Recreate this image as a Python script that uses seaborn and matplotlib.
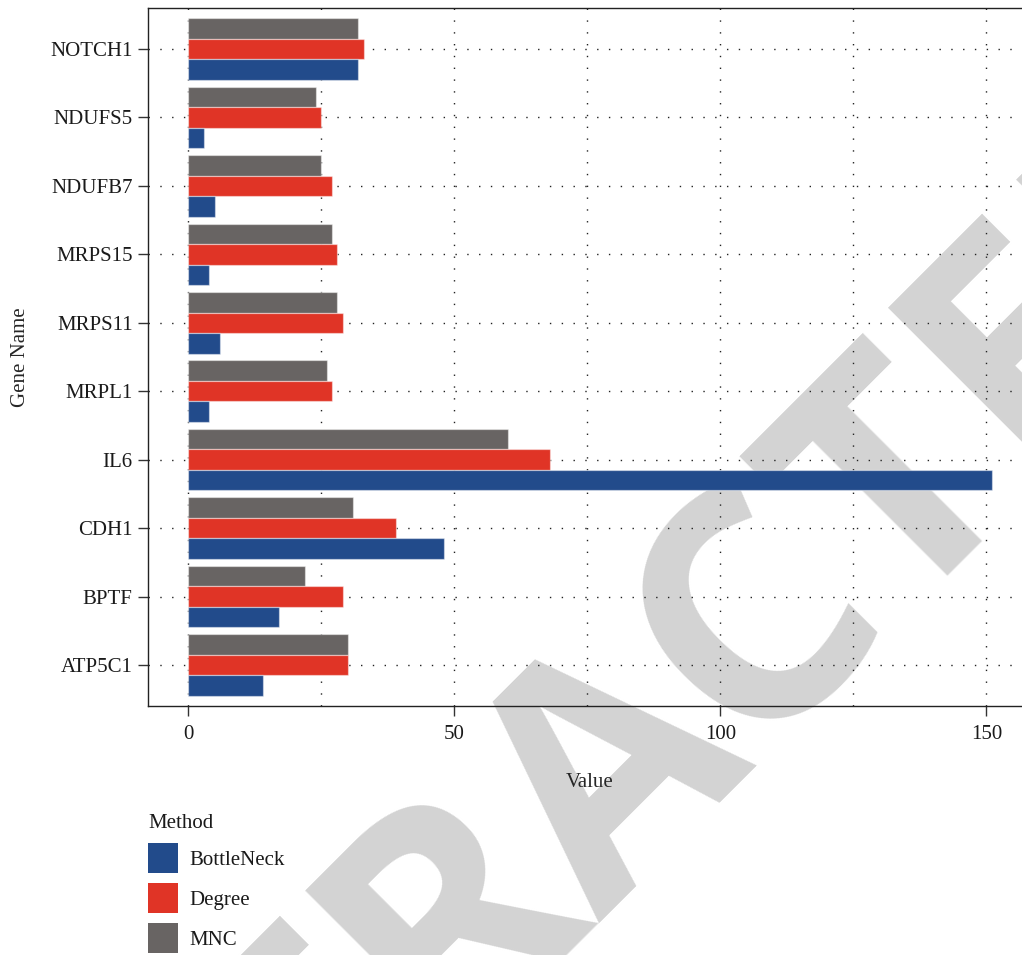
import matplotlib
matplotlib.use("Agg")
import matplotlib.pyplot as plt
from matplotlib.patches import Patch
import seaborn as sns
import pandas as pd

genes = ["NOTCH1", "NDUFS5", "NDUFB7", "MRPS15", "MRPS11",
         "MRPL1", "IL6", "CDH1", "BPTF", "ATP5C1"]
bottleneck = [32, 3, 5, 4, 6, 4, 151, 48, 17, 14]
degree = [33, 25, 27, 28, 29, 27, 68, 39, 29, 30]
mnc = [32, 24, 25, 27, 28, 26, 60, 31, 22, 30]
methods = ["BottleNeck", "Degree", "MNC"]
colors = {"BottleNeck": "#224B8B", "Degree": "#E03426", "MNC": "#686463"}
x_major = [0, 50, 100, 150]
x_minor = [25, 75, 125]

df = pd.DataFrame({
    "Gene": genes * 3,
    "Value": bottleneck + degree + mnc,
    "Method": ["BottleNeck"] * len(genes) + ["Degree"] * len(genes) + ["MNC"] * len(genes),
})

sns.set_style("ticks")
plt.rcParams["font.family"] = ["Liberation Serif", "DejaVu Serif"]
plt.rcParams["text.color"] = "#1a1a1a"

W, H = 1022, 955
FS = 15
fig = plt.figure(figsize=(W / 100, H / 100), dpi=100)
fig.patch.set_facecolor("white")

# watermark
fig.text(675 / W, 1 - 819 / H, "RETRACTED", rotation=45, rotation_mode="anchor",
         ha="center", va="baseline", fontsize=233, fontweight="bold",
         family=["Open Sans", "Liberation Sans"], color="#d3d3d3", zorder=-5)

left, right, top, bottom = 148, 1032, 8, 706
ax = fig.add_axes([left / W, 1 - bottom / H, (right - left) / W, (bottom - top) / H])
ax.set_facecolor("none")

sns.barplot(data=df, y="Gene", x="Value", hue="Method", order=genes,
            hue_order=["MNC", "Degree", "BottleNeck"], palette=colors,
            width=0.9, orient="h", ax=ax, legend=False,
            edgecolor=(1, 1, 1, 0.45), linewidth=0.9, saturation=1)

ax.set_xlim(-7.55, 158.55)
ax.set_ylim(len(genes) - 1 + 0.6, -0.6)
ax.set_xticks(x_major)
ax.set_xticks(x_minor, minor=True)
ax.set_xticklabels([str(v) for v in x_major])
ax.set_axisbelow(True)
ax.grid(True, which="both", axis="x", color="#222222", linewidth=1.0,
        linestyle=(0, (1, 7.5)))
ax.grid(True, which="major", axis="y", color="#222222", linewidth=1.0,
        linestyle=(0, (1, 7.5)))

for s in ["left", "bottom", "top", "right"]:
    ax.spines[s].set_visible(True)
    ax.spines[s].set_color("#222222")
    ax.spines[s].set_linewidth(1.0)

ax.tick_params(axis="both", which="major", length=7, width=1.0, color="#333333",
               labelsize=FS, labelcolor="#1a1a1a")
ax.tick_params(axis="x", which="major", pad=7)
ax.tick_params(axis="y", which="major", pad=4)
ax.tick_params(axis="x", which="minor", length=0)

ax.set_xlabel("Value", fontsize=FS)
ax.set_ylabel("Gene Name", fontsize=FS)
ax.xaxis.set_label_coords(0.5, (bottom - 773) / (bottom - top))
ax.yaxis.set_label_coords((30 - left) / (right - left), 0.5)

handles = [Patch(facecolor=colors[m], edgecolor="none", label=m) for m in methods]
leg = fig.legend(handles=handles, title="Method", loc="upper left",
                 bbox_to_anchor=(148 / W, 1 - 814 / H), frameon=False,
                 fontsize=FS, title_fontsize=FS, handlelength=1.44,
                 handleheight=1.8, handletextpad=0.56, labelspacing=0.5,
                 borderpad=0, borderaxespad=0, alignment="left")

fig.savefig("out.png", dpi=100)
